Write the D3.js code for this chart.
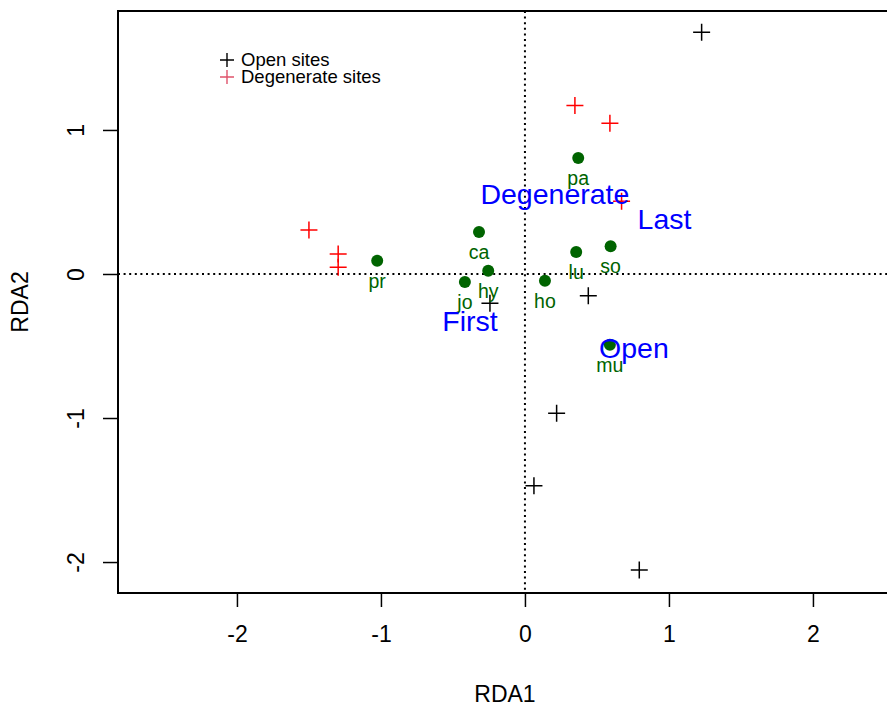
<!DOCTYPE html>
<html>
<head>
<meta charset="utf-8">
<script src="https://cdn.jsdelivr.net/npm/d3@7"></script>
<style>
  body { margin: 0; background: #fff; }
  svg { display: block; font-family: "Liberation Sans", Arial, Helvetica, sans-serif; }
</style>
</head>
<body>
<svg class="chart" width="887" height="706"></svg>
<script>
// site scores (crosses)
const openX = [1.227, 0.440, -0.243, 0.220, 0.0625, 0.794]
const openY = [1.678, -0.151, -0.203, -0.967, -1.470, -2.056]
const degX = [0.347, 0.590, 0.671, -1.500, -1.297, -1.297]
const degY = [1.169, 1.046, 0.505, 0.306, 0.139, 0.047]

// species scores
const species = ['pa', 'ca', 'hy', 'jo', 'pr', 'ho', 'lu', 'so', 'mu']
const speciesX = [0.370, -0.319, -0.255, -0.417, -1.026, 0.139, 0.356, 0.595, 0.590]
const speciesY = [0.806, 0.292, 0.023, -0.056, 0.092, -0.047, 0.153, 0.192, -0.491]

// factor centroids
const centroids = ['Degenerate', 'Last', 'First', 'Open']
const centroidX = [0.208, 0.969, -0.382, 0.757]
const centroidY = [0.552, 0.382, -0.330, -0.514]

const xTicks = [-2, -1, 0, 1, 2]
const yTicks = [-2, -1, 0, 1]
const legendLabels = ['Open sites', 'Degenerate sites']

const margin = { left: 118, top: 11, right: 892, bottom: 593 }

const x = d3.scaleLinear().domain([-2.826, 2.549]).range([margin.left, margin.right])
const y = d3.scaleLinear().domain([-2.215, 1.826]).range([margin.bottom, margin.top])

const chart = d3.select('.chart')
const plain = d => String(d).replace('\u2212', '-')

const cross = (sel, color, width) => {
  const s = 8.5
  sel.append('path')
    .attr('d', d => `M${x(d[0]) - s},${y(d[1])}h${2 * s}M${x(d[0])},${y(d[1]) - s}v${2 * s}`)
    .attr('stroke', color)
    .attr('stroke-width', width)
    .attr('fill', 'none')
}

// dotted zero lines
chart.append('line')
  .attr('x1', x(0)).attr('x2', x(0))
  .attr('y1', margin.top).attr('y2', margin.bottom)
  .attr('stroke', '#000').attr('stroke-width', 2).attr('stroke-dasharray', '2,3.6')
chart.append('line')
  .attr('x1', margin.left).attr('x2', margin.right)
  .attr('y1', y(0)).attr('y2', y(0))
  .attr('stroke', '#000').attr('stroke-width', 2).attr('stroke-dasharray', '2,3.6')

// axes
const xAxis = chart.append('g')
  .attr('transform', `translate(0,${margin.bottom})`)
  .call(d3.axisBottom(x).tickValues(xTicks).tickSize(14).tickPadding(19).tickFormat(plain))
xAxis.select('.domain').remove()
xAxis.selectAll('line').attr('stroke-width', 1.5)
xAxis.selectAll('text').attr('font-size', 23).attr('fill', '#000').attr('font-family', null)

const yAxis = chart.append('g')
  .attr('transform', `translate(${margin.left},0)`)
  .call(d3.axisLeft(y).tickValues(yTicks).tickSize(15).tickFormat(plain))
yAxis.select('.domain').remove()
yAxis.selectAll('line').attr('stroke-width', 1.5)
yAxis.selectAll('text')
  .attr('x', 0).attr('dy', null)
  .attr('text-anchor', 'middle')
  .attr('transform', 'translate(-34,0) rotate(-90)')
  .attr('font-size', 23).attr('fill', '#000').attr('font-family', null)

// box
chart.append('rect')
  .attr('x', margin.left).attr('y', margin.top)
  .attr('width', margin.right - margin.left)
  .attr('height', margin.bottom - margin.top)
  .attr('fill', 'none').attr('stroke', '#000').attr('stroke-width', 2)

// axis titles
chart.append('text')
  .attr('x', (margin.left + margin.right) / 2).attr('y', 702)
  .attr('text-anchor', 'middle').attr('font-size', 23)
  .text('RDA1')
chart.append('text')
  .attr('transform', `translate(28,${(margin.top + margin.bottom) / 2}) rotate(-90)`)
  .attr('text-anchor', 'middle').attr('font-size', 23)
  .text('RDA2')

// sites
chart.append('g').selectAll('g')
  .data(d3.zip(openX, openY)).enter().append('g')
  .call(cross, '#000', 1.5)
chart.append('g').selectAll('g')
  .data(d3.zip(degX, degY)).enter().append('g')
  .call(cross, '#ff0000', 1.5)

// species
const sp = chart.append('g').selectAll('g')
  .data(d3.zip(speciesX, speciesY, species)).enter().append('g')
sp.append('circle')
  .attr('cx', d => x(d[0])).attr('cy', d => y(d[1]))
  .attr('r', 6).attr('fill', '#006400')
sp.append('text')
  .attr('x', d => x(d[0])).attr('y', d => y(d[1]) + 27)
  .attr('text-anchor', 'middle').attr('font-size', 19.5).attr('fill', '#006400')
  .text(d => d[2])

// centroids
chart.append('g').selectAll('text')
  .data(d3.zip(centroidX, centroidY, centroids)).enter().append('text')
  .attr('x', d => x(d[0])).attr('y', d => y(d[1]))
  .attr('dy', '0.35em')
  .attr('text-anchor', 'middle').attr('font-size', 28.5).attr('fill', '#0000ff')
  .text(d => d[2])

// legend
const legend = chart.append('g').attr('transform', 'translate(227,60)')
const legendColors = ['#000', '#DF536B']
legendLabels.forEach((label, i) => {
  const row = legend.append('g').attr('transform', `translate(0,${i * 17})`)
  row.append('path').attr('d', 'M-7,0h14M0,-7v14')
    .attr('stroke', legendColors[i]).attr('stroke-width', 1.4)
  row.append('text').attr('x', 14).attr('dy', '0.35em')
    .attr('font-size', 18.5).text(label)
})
</script>
</body>
</html>
